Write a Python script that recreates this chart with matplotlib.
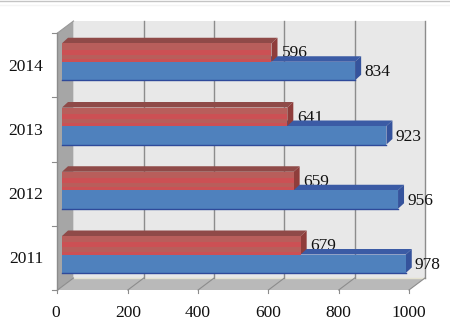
#!/usr/bin/env python3
import matplotlib
matplotlib.use('Agg')
import matplotlib.pyplot as plt
from matplotlib.patches import Polygon

# values
years = ['2011', '2012', '2013', '2014']
blue_vals = [978, 956, 923, 834]
red_vals = [679, 659, 641, 596]
xticks = [0, 200, 400, 600, 800, 1000]

W, H = 450, 329
# plot box of the front plane in pixels
left, right, top, bottom = 57.5, 409, 33, 290

plt.rcParams['font.family'] = ['Liberation Serif', 'DejaVu Serif']
fig = plt.figure(figsize=(W / 100, H / 100), dpi=100)
ax = fig.add_axes([left / W, 1 - bottom / H, (right - left) / W, (bottom - top) / H])
ax.set_xlim(0, 1000)
ax.set_ylim(0, 4)
ax.axis('off')

# pixels to data units for the fake 3d offsets
px = 1000 / (right - left)
py = 4 / (bottom - top)
dx, dy = 16 * px, 12 * py
fs = 12.5


def poly(pts, color, z=1):
    ax.add_patch(Polygon(pts, closed=True, fc=color, ec='none', lw=0, zorder=z, clip_on=False))


# walls and floor
poly([(dx, dy), (1000 + dx, dy), (1000 + dx, 4 + dy), (dx, 4 + dy)], '#e8e8e8')
poly([(0, 0), (dx, dy), (dx, 4 + dy), (0, 4)], '#a6a6a6')
poly([(0, 0), (1000, 0), (1000 + dx, dy), (dx, dy)], '#b9b9b9')
ax.plot([dx, 1000 + dx], [dy, dy], color='#e4e2d0', lw=1, zorder=1.5, clip_on=False)

# grid on back wall and floor
for t in xticks[1:]:
    ax.plot([t + dx, t + dx], [dy, 4 + dy], color='#8c8c8c', lw=1, zorder=2, clip_on=False)
    ax.plot([t, t + dx], [0, dy], color='#8c8c8c', lw=0.8, zorder=2, clip_on=False)
ax.plot([0, dx], [0, dy], color='#8c8c8c', lw=0.8, zorder=2, clip_on=False)
ax.plot([0, dx], [4, 4 + dy], color='#999999', lw=0.8, zorder=2, clip_on=False)
ax.plot([0, 0], [0, 4], color='#8c8c8c', lw=1, zorder=2, clip_on=False)

# ticks
for i in range(5):
    ax.plot([-5 * px, 0], [i, i], color='#8c8c8c', lw=0.8, zorder=2, clip_on=False)
for t in xticks:
    ax.plot([t, t], [-3 * py, 0], color='#8c8c8c', lw=0.8, zorder=2, clip_on=False)
    ax.text(t - 1.5 * px * (t == 0), -23 * py, str(t), ha='center', va='center', fontsize=fs, color='#111111')
for i, y in enumerate(years):
    ax.text(-31.5 * px, i + 0.5 - 1.5 * py, y, ha='center', va='center', fontsize=fs, color='#111111')

# bars
off_x, off_y = 4.5 * px, 17 * py
h = 18.5 * py
ddx, ddy = 6 * px, 5.5 * py


def faces(val, y0, side, topc, z):
    x0 = off_x
    x1 = val + off_x
    poly([(x0, y0 + h), (x1, y0 + h), (x1 + ddx, y0 + h + ddy), (x0 + ddx, y0 + h + ddy)], topc, z)
    poly([(x1, y0), (x1 + ddx, y0 + ddy), (x1 + ddx, y0 + h + ddy), (x1, y0 + h)], side, z)


for i in range(4):
    by = i + off_y
    ry = by + h
    # red label goes under the blue top face, as in the picture
    ax.text(red_vals[i] + off_x + 10 * px, ry + 8.5 * py, str(red_vals[i]), ha='left', va='center',
            fontsize=fs, color='#111111', zorder=4)
    faces(blue_vals[i], by, '#35539c', '#3b5ba5', 5)
    faces(red_vals[i], ry, '#8f3d3b', '#8f4a48', 6)
    ax.barh(ry, red_vals[i], height=h, left=off_x, align='edge', color='#cc5054', lw=0, zorder=6.1)
    # duller bands through the red face
    for b0, b1 in [(0.16, 0.38), (0.66, 1.0)]:
        ax.barh(ry + h * b0, red_vals[i], height=h * (b1 - b0), left=off_x, align='edge',
                color='#b85e5b', lw=0, zorder=6.2)
    ax.barh(by, blue_vals[i], height=h, left=off_x, align='edge', color='#4f81bd', lw=0, zorder=7)
    ax.plot([off_x, blue_vals[i] + off_x], [by, by], color='#2f4a9a', lw=1, zorder=7.1, clip_on=False)
    ax.text(blue_vals[i] + off_x + 9 * px, by + h * 0.5 - 1.5 * py, str(blue_vals[i]), ha='left', va='center',
            fontsize=fs, color='#111111', zorder=20)

# thin frame lines at the top of the image
fig.add_artist(plt.Line2D([0, 1], [1 - 0.5 / H, 1 - 0.5 / H], color='#c4c4c4', lw=1))
fig.add_artist(plt.Line2D([0, 1], [1 - 5 / H, 1 - 5 / H], color='#f4f4f4', lw=1))

fig.savefig('out.png', dpi=100)
